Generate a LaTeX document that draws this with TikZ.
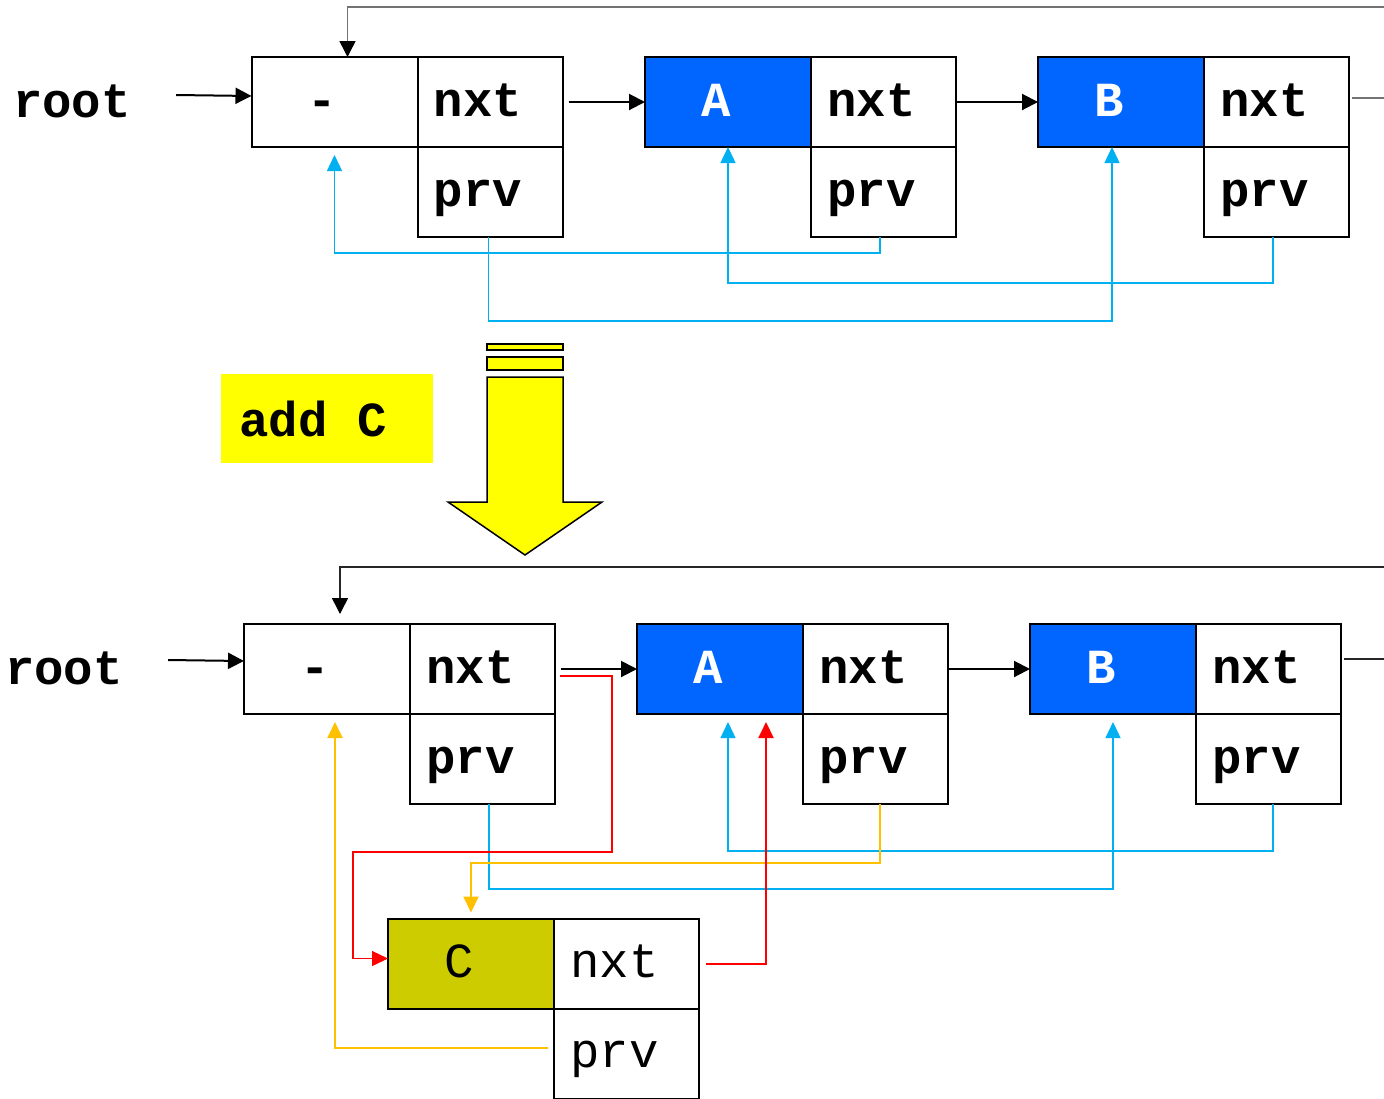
\documentclass[tikz,border=0pt]{standalone}
\usepackage{fontspec}
\usepackage{tikz}
\usetikzlibrary{positioning,arrows.meta}
\newfontfamily\listfont{Liberation Mono}
\definecolor{nodeblue}{HTML}{0066FF}
\definecolor{newolive}{HTML}{CCCC00}
\definecolor{prvcyan}{HTML}{00B0F0}
\definecolor{prvorange}{HTML}{FFC000}
\definecolor{addyellow}{HTML}{FFFF00}
\definecolor{nxtred}{HTML}{FF0000}

\begin{document}
\begin{tikzpicture}[
    x=0.5pt, y=-0.5pt,
    cell/.style={rectangle, draw, line width=1pt, inner sep=0pt, outer sep=0pt, minimum height=45pt,
        text height=17pt, text depth=3pt,
        font=\listfont\bfseries\fontsize{24.5}{28}\selectfont, execute at end node={\hspace*{12pt}}},
    datacell/.style={cell, minimum width=83pt},
    ptrcell/.style={cell, minimum width=72.5pt},
    bluecell/.style={datacell, fill=nodeblue, text=white},
    newcell/.style={datacell, fill=newolive, font=\listfont\fontsize{24.5}{28}\selectfont},
    newptr/.style={ptrcell, font=\listfont\fontsize{24.5}{28}\selectfont},
    rootlabel/.style={inner sep=0pt, font=\listfont\bfseries\fontsize{24.5}{28}\selectfont},
    addbox/.style={fill=addyellow, inner sep=0pt, minimum width=106pt, minimum height=44.5pt,
        font=\listfont\bfseries\fontsize{24.5}{28}\selectfont, execute at end node={\hspace*{14pt}}},
    arrow/.style={-{Triangle[length=8pt,width=8pt]}, line width=1pt},
    loopline/.style={line width=0.75pt, draw=black!55},
    back/.style={-{Triangle[length=8pt,width=7.5pt]}, line width=0.7pt, color=prvcyan},
    backnew/.style={back, color=prvorange, line width=1pt},
    nxtnew/.style={-{Triangle[length=8pt,width=7.5pt]}, line width=0.7pt, color=nxtred}
]
\useasboundingbox (0,0) rectangle (1384,1098);
\clip (0,0) rectangle (1384,1098);

% Before
\node[rootlabel] (root) at (72,101) {root};
\node[datacell] (head) at (334.5,102) {-};
\node[ptrcell, right=0pt of head] (headnxt) {nxt};
\node[ptrcell, below=0pt of headnxt] (headprv) {prv};
\node[bluecell] (a) at (728,102) {A};
\node[ptrcell, right=0pt of a] (anxt) {nxt};
\node[ptrcell, below=0pt of anxt] (aprv) {prv};
\node[bluecell] (b) at (1121,102) {B};
\node[ptrcell, right=0pt of b] (bnxt) {nxt};
\node[ptrcell, below=0pt of bnxt] (bprv) {prv};
\coordinate (wrapout) at (1384,98);
\coordinate (wrapin) at (1384,7);

\draw[arrow] ([xshift=22.5pt,yshift=3pt]root.east) -- ([yshift=3pt]head.west);
\draw[arrow] ([xshift=3pt]headnxt.east) -- (a.west);
\draw[arrow] (anxt.east) -- (b.west);
\draw[loopline] ([xshift=1.5pt,yshift=2pt]bnxt.east) -- (wrapout);
\draw[loopline, -{Triangle[length=8pt,width=8pt,color=black]}] (wrapin) -| ([xshift=6.5pt]head.north);

\draw[back] ([xshift=-1.75pt]aprv.south) -- ++(0,16) -| ([yshift=-4pt]head.south);
\draw[back] ([xshift=-0.75pt]headprv.south) -- ++(0,84) -| ([xshift=-4.5pt]b.south);
\draw[back] ([xshift=-1.75pt]bprv.south) -- ++(0,46) -| (a.south);

% add C
\node[addbox] (addc) at (327,418.5) {add C};
\draw[line width=0.75pt, fill=addyellow] (487,344) rectangle (563,350);
\draw[line width=0.75pt, fill=addyellow] (487,357) rectangle (563,370);
\draw[line width=0.75pt, fill=addyellow] (487,377) -- (563,377) -- (563,502) -- (602,502)
    -- (525,555) -- (448,502) -- (487,502) -- cycle;

% After
\node[rootlabel] (root2) at (64,668) {root};
\node[datacell] (head2) at (327,669) {-};
\node[ptrcell, right=0pt of head2] (head2nxt) {nxt};
\node[ptrcell, below=0pt of head2nxt] (head2prv) {prv};
\node[bluecell] (a2) at (720,669) {A};
\node[ptrcell, right=0pt of a2] (a2nxt) {nxt};
\node[ptrcell, below=0pt of a2nxt] (a2prv) {prv};
\node[bluecell] (b2) at (1113,669) {B};
\node[ptrcell, right=0pt of b2] (b2nxt) {nxt};
\node[ptrcell, below=0pt of b2nxt] (b2prv) {prv};
\node[newcell] (c) at (471,963.5) {C};
\node[newptr, right=0pt of c] (cnxt) {nxt};
\node[newptr, below=0pt of cnxt] (cprv) {prv};
\coordinate (wrapout2) at (1384,659);
\coordinate (wrapin2) at (1384,567);

\draw[arrow] ([xshift=22.5pt,yshift=4pt]root2.east) -- ([yshift=4pt]head2.west);
\draw[arrow] ([xshift=3pt]head2nxt.east) -- (a2.west);
\draw[arrow] (a2nxt.east) -- (b2.west);
\draw[loopline, draw=black!85] ([xshift=1.5pt,yshift=5pt]b2nxt.east) -- (wrapout2);
\draw[loopline, draw=black!85, -{Triangle[length=8pt,width=8pt,color=black]}] (wrapin2) -| ([xshift=6.5pt,yshift=5pt]head2.north);

\draw[back] ([xshift=3.25pt]head2prv.south) -- ++(0,85) -| ([yshift=-4pt]b2.south);
\draw[back] ([xshift=2.25pt]b2prv.south) -- ++(0,47) -| ([xshift=4pt,yshift=-4pt]a2.south);
\draw[backnew] ([xshift=2pt]a2prv.south) -- ++(0,59) -| ([yshift=3pt]c.north);
\draw[backnew] ([xshift=-3pt,yshift=3pt]cprv.west) -| ([xshift=4pt,yshift=-4pt]head2.south);
\draw[nxtnew] ([xshift=2.5pt,yshift=-3.5pt]head2nxt.east) -- ++(52,0) -- ++(0,176) -- ++(-259,0)
    |- ([yshift=2.5pt]c.west);
\draw[nxtnew, line width=1pt] ([xshift=3.5pt]cnxt.east) -| ([xshift=23pt,yshift=-4pt]a2.south);
\end{tikzpicture}
\end{document}
